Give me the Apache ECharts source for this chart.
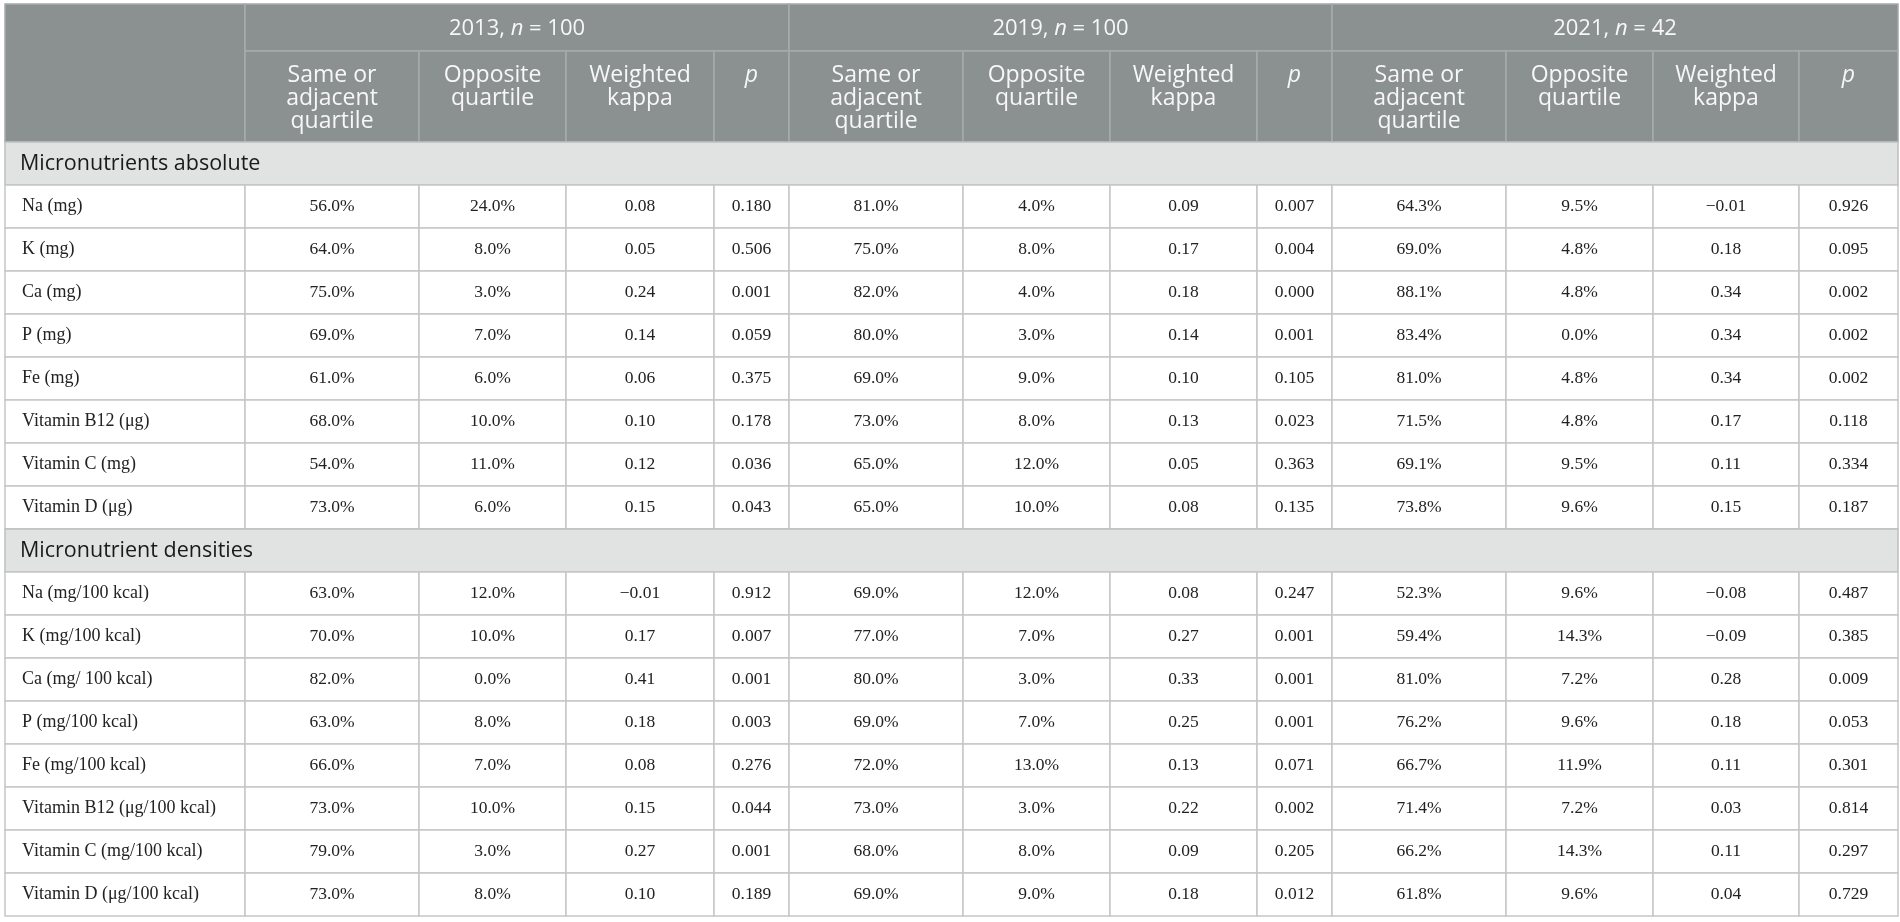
<!DOCTYPE html>
<html>
<head>
<meta charset="utf-8">
<script src="https://cdn.jsdelivr.net/npm/echarts@6/dist/echarts.min.js"></script>
<style>
  html, body { margin: 0; padding: 0; background: #fff; }
  #chart { width: 1900px; height: 922px; }
</style>
</head>
<body>
<div id="chart"></div>
<script>
// table content
const years = ['2013', '2019', '2021'];
const yearN = [100, 100, 42];
const subHeads = ['Same or\nadjacent\nquartile', 'Opposite\nquartile', 'Weighted\nkappa', 'p'];
const sections = ['Micronutrients absolute', 'Micronutrient densities'];
const labelsAbs = ['Na (mg)', 'K (mg)', 'Ca (mg)', 'P (mg)', 'Fe (mg)', 'Vitamin B12 (μg)', 'Vitamin C (mg)', 'Vitamin D (μg)'];
const labelsDens = ['Na (mg/100 kcal)', 'K (mg/100 kcal)', 'Ca (mg/ 100 kcal)', 'P (mg/100 kcal)', 'Fe (mg/100 kcal)',
  'Vitamin B12 (μg/100 kcal)', 'Vitamin C (mg/100 kcal)', 'Vitamin D (μg/100 kcal)'];

// 8 absolute rows, then 8 density rows
const same2013 = [56.0, 64.0, 75.0, 69.0, 61.0, 68.0, 54.0, 73.0, 63.0, 70.0, 82.0, 63.0, 66.0, 73.0, 79.0, 73.0];
const opp2013 = [24.0, 8.0, 3.0, 7.0, 6.0, 10.0, 11.0, 6.0, 12.0, 10.0, 0.0, 8.0, 7.0, 10.0, 3.0, 8.0];
const kappa2013 = [0.08, 0.05, 0.24, 0.14, 0.06, 0.10, 0.12, 0.15, -0.01, 0.17, 0.41, 0.18, 0.08, 0.15, 0.27, 0.10];
const p2013 = [0.180, 0.506, 0.001, 0.059, 0.375, 0.178, 0.036, 0.043, 0.912, 0.007, 0.001, 0.003, 0.276, 0.044, 0.001, 0.189];

const same2019 = [81.0, 75.0, 82.0, 80.0, 69.0, 73.0, 65.0, 65.0, 69.0, 77.0, 80.0, 69.0, 72.0, 73.0, 68.0, 69.0];
const opp2019 = [4.0, 8.0, 4.0, 3.0, 9.0, 8.0, 12.0, 10.0, 12.0, 7.0, 3.0, 7.0, 13.0, 3.0, 8.0, 9.0];
const kappa2019 = [0.09, 0.17, 0.18, 0.14, 0.10, 0.13, 0.05, 0.08, 0.08, 0.27, 0.33, 0.25, 0.13, 0.22, 0.09, 0.18];
const p2019 = [0.007, 0.004, 0.000, 0.001, 0.105, 0.023, 0.363, 0.135, 0.247, 0.001, 0.001, 0.001, 0.071, 0.002, 0.205, 0.012];

const same2021 = [64.3, 69.0, 88.1, 83.4, 81.0, 71.5, 69.1, 73.8, 52.3, 59.4, 81.0, 76.2, 66.7, 71.4, 66.2, 61.8];
const opp2021 = [9.5, 4.8, 4.8, 0.0, 4.8, 4.8, 9.5, 9.6, 9.6, 14.3, 7.2, 9.6, 11.9, 7.2, 14.3, 9.6];
const kappa2021 = [-0.01, 0.18, 0.34, 0.34, 0.34, 0.17, 0.11, 0.15, -0.08, -0.09, 0.28, 0.18, 0.11, 0.03, 0.11, 0.04];
const p2021 = [0.926, 0.095, 0.002, 0.002, 0.002, 0.118, 0.334, 0.187, 0.487, 0.385, 0.009, 0.053, 0.301, 0.814, 0.297, 0.729];

const yearCols = [
  [same2013, opp2013, kappa2013, p2013],
  [same2019, opp2019, kappa2019, p2019],
  [same2021, opp2021, kappa2021, p2021]
];

// layout (axis units = px)
const colWidths = [240, 174, 147, 148, 75, 174, 147, 147, 75, 174, 147, 146, 99];
const headH = [47, 91];
const rowH = 43;

const colX = [0];
colWidths.forEach(w => colX.push(colX[colX.length - 1] + w));
const totalW = colX[colX.length - 1];

const fmtPct = v => v.toFixed(1) + '%';
const fmtKappa = v => (v < 0 ? '\u2212' : '') + Math.abs(v).toFixed(2);
const fmtP = v => v.toFixed(3);
const fmts = [fmtPct, fmtPct, fmtKappa, fmtP];

// build the cell list
const cells = [];
const hTop = headH[0] + headH[1];
cells.push({ x0: 0, x1: colX[1], y0: 0, y1: hTop, kind: 'head', text: '' });
years.forEach((y, g) => {
  const c0 = 1 + g * 4;
  cells.push({ x0: colX[c0], x1: colX[c0 + 4], y0: 0, y1: headH[0], kind: 'group',
    text: '{a|' + y + ', }{i|n}{a| = ' + yearN[g] + '}' });
  subHeads.forEach((s, k) => {
    cells.push({ x0: colX[c0 + k], x1: colX[c0 + k + 1], y0: headH[0], y1: hTop,
      kind: k === 3 ? 'subItalic' : 'sub', text: s });
  });
});

let yCur = hTop;
[labelsAbs, labelsDens].forEach((labels, si) => {
  cells.push({ x0: 0, x1: totalW, y0: yCur, y1: yCur + rowH, kind: 'section', text: sections[si] });
  yCur += rowH;
  labels.forEach((lab, li) => {
    const r = si * 8 + li;
    cells.push({ x0: 0, x1: colX[1], y0: yCur, y1: yCur + rowH, kind: 'label', text: lab });
    yearCols.forEach((cols, g) => {
      cols.forEach((arr, k) => {
        const c = 1 + g * 4 + k;
        cells.push({ x0: colX[c], x1: colX[c + 1], y0: yCur, y1: yCur + rowH, kind: 'value', text: fmts[k](arr[r]) });
      });
    });
    yCur += rowH;
  });
});
const totalH = yCur;

const headBg = '#8b9091';
const headLine = '#a6aaab';
const sectionBg = '#e1e3e2';
const gridLine = '#c6c6c6';
const headFont = 'Open Sans';

function renderCell(params, api) {
  const c = cells[params.dataIndex];
  const p0 = api.coord([c.x0, c.y0]);
  const p1 = api.coord([c.x1, c.y1]);
  const x = p0[0], y = p0[1], w = p1[0] - p0[0], h = p1[1] - p0[1];
  const isHead = c.kind === 'head' || c.kind === 'group' || c.kind === 'sub' || c.kind === 'subItalic';
  const rect = {
    type: 'rect',
    shape: { x: x, y: y, width: w, height: h },
    style: {
      fill: isHead ? headBg : (c.kind === 'section' ? sectionBg : '#ffffff'),
      stroke: isHead ? headLine : (c.kind === 'section' ? '#bdbfbf' : gridLine),
      lineWidth: 1.5
    }
  };
  const children = [rect];
  if (c.text) {
    let ts;
    if (c.kind === 'group') {
      ts = { x: x + w / 2, y: y + h / 2 + 1, style: {
        text: c.text, align: 'center', verticalAlign: 'middle',
        rich: {
          a: { fontFamily: headFont, fontSize: 22, fill: '#f7f7f7' },
          i: { fontFamily: headFont, fontSize: 22, fontStyle: 'italic', fill: '#f7f7f7' }
        }
      } };
    } else if (c.kind === 'sub' || c.kind === 'subItalic') {
      ts = { x: x + w / 2, y: y + 13, style: {
        text: c.text, align: 'center', verticalAlign: 'top', lineHeight: 23,
        fontFamily: headFont, fontSize: 23, fill: '#f7f7f7',
        fontStyle: c.kind === 'subItalic' ? 'italic' : 'normal'
      } };
    } else if (c.kind === 'section') {
      ts = { x: x + 15, y: y + h / 2, style: {
        text: c.text, align: 'left', verticalAlign: 'middle',
        fontFamily: headFont, fontSize: 21.5, fill: '#1a1a1a'
      } };
    } else if (c.kind === 'label') {
      ts = { x: x + 17, y: y + h / 2, style: {
        text: c.text, align: 'left', verticalAlign: 'middle',
        fontFamily: 'Liberation Serif', fontSize: 18, fill: '#222222'
      } };
    } else {
      ts = { x: x + w / 2, y: y + h / 2, style: {
        text: c.text, align: 'center', verticalAlign: 'middle',
        fontFamily: 'Liberation Serif', fontSize: 17.5, fill: '#222222'
      } };
    }
    ts.type = 'text';
    children.push(ts);
  }
  return { type: 'group', children: children };
}

const chart = echarts.init(document.getElementById('chart'));
chart.setOption({
  animation: false,
  grid: { left: 5, top: 4, width: totalW, height: totalH },
  xAxis: { type: 'value', min: 0, max: totalW, show: false },
  yAxis: { type: 'value', min: 0, max: totalH, inverse: true, show: false },
  series: [{
    type: 'custom',
    silent: true,
    clip: false,
    renderItem: renderCell,
    encode: { x: [0, 1], y: [2, 3] },
    data: cells.map(c => [c.x0, c.x1, c.y0, c.y1])
  }]
});
</script>
</body>
</html>
